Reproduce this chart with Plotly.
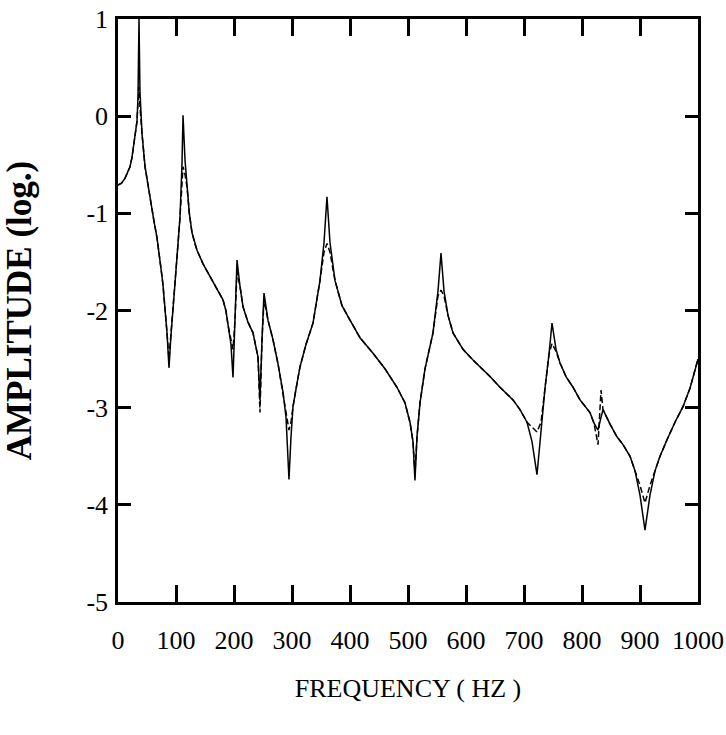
import plotly.graph_objects as go

# Frequency grid (Hz)
freq = [0, 6.0, 12.0, 17.0, 20.7, 24.0, 25.9, 29.0, 32.8, 34.5, 36.2, 37.9, 39.5, 41.4, 46.6,
        55.2, 62.0, 67.2, 72.0, 75.9, 77.6, 81.0,
        84.5, 87.9, 91.4, 98.3, 101.7, 106.9, 110.3, 112.1, 115.5, 119.0, 123.0, 127.6, 132.0,
        136.2, 146.6,
        158.6, 170.7, 181.0, 186.0, 189.7, 194.8, 198.3, 201.7, 205.2, 210.3, 215.5, 224.1, 232.8,
        241.4, 244.8, 248.3, 251.7, 258.6, 267.2, 275.9, 284.5, 289.7, 294.8, 298.3, 301.7,
        308.6, 313.8, 324.1, 336.2, 348.3, 355.2, 360.3, 365.5, 374.1, 386.2, 400.0, 417.2,
        439.7, 460.3, 481.0, 494.8, 503.4, 508.6, 512.0, 515.5, 520.7, 529.3, 543.1, 551.7,
        556.9, 562.1, 569.0, 577.6, 594.8, 612.1, 641.4, 658.6, 681.0, 693.1, 705.2, 713.8,
        722.4, 729.3, 736.2, 743.1, 748.3, 755.2, 762.1, 772.4, 784.5, 796.6, 813.8, 820.7,
        827.6, 832.8, 836.2, 848.3, 860.3, 870.7, 882.8, 891.4, 900.0, 908.6, 917.2, 925.9,
        934.5, 946.6, 960.3, 974.1, 986.2, 1000.0]

# Solid curve (log amplitude)
amp_solid = [-0.71, -0.69, -0.64, -0.58, -0.52, -0.43, -0.35, -0.22, -0.05, 0.2, 1.0, 0.25, -0.05,
             -0.18, -0.52,
             -0.86, -1.08, -1.25, -1.45, -1.65, -1.74, -1.95,
             -2.23, -2.59, -2.25, -1.72, -1.45, -1.04, -0.5, 0.01, -0.45, -0.73, -1.0, -1.2, -1.3,
             -1.38, -1.52,
             -1.65, -1.78, -1.89, -2.0, -2.15, -2.35, -2.69, -2.1, -1.48, -1.75, -1.96, -2.12, -2.23,
             -2.48, -2.92, -2.3, -1.82, -2.1, -2.30, -2.55, -2.84, -3.1, -3.74, -3.3, -2.99,
             -2.75, -2.58, -2.35, -2.13, -1.69, -1.3, -0.83, -1.3, -1.69, -1.95, -2.10, -2.28,
             -2.44, -2.60, -2.79, -2.95, -3.15, -3.35, -3.75, -3.3, -2.95, -2.6, -2.23, -1.8,
             -1.41, -1.8, -2.05, -2.23, -2.40, -2.51, -2.68, -2.79, -2.92, -3.02, -3.15, -3.35,
             -3.69, -3.2, -2.8, -2.45, -2.13, -2.4, -2.54, -2.68, -2.79, -2.92, -3.05, -3.16,
             -3.23, -3.1, -3.02, -3.17, -3.3, -3.38, -3.5, -3.65, -3.9, -4.26, -3.9, -3.65,
             -3.5, -3.33, -3.15, -2.99, -2.8, -2.5]

# Dashed curve (log amplitude)
amp_dashed = [-0.71, -0.69, -0.64, -0.58, -0.52, -0.43, -0.35, -0.22, -0.05, 0.15, 0.3, 0.1, -0.05,
              -0.18, -0.52,
              -0.86, -1.08, -1.25, -1.45, -1.65, -1.74, -1.95,
              -2.23, -2.5, -2.25, -1.72, -1.45, -1.04, -0.6, -0.52, -0.6, -0.73, -1.0, -1.2, -1.3,
              -1.38, -1.52,
              -1.65, -1.78, -1.89, -2.0, -2.15, -2.30, -2.4, -2.1, -1.6, -1.75, -1.96, -2.12, -2.23,
              -2.48, -3.05, -2.3, -1.9, -2.1, -2.30, -2.55, -2.84, -3.05, -3.23, -3.15, -2.99,
              -2.75, -2.58, -2.35, -2.13, -1.69, -1.4, -1.31, -1.4, -1.69, -1.95, -2.10, -2.28,
              -2.44, -2.60, -2.79, -2.95, -3.15, -3.35, -3.68, -3.3, -2.95, -2.6, -2.23, -1.85,
              -1.79, -1.85, -2.05, -2.23, -2.40, -2.51, -2.68, -2.79, -2.92, -3.02, -3.15, -3.2,
              -3.25, -3.15, -2.8, -2.45, -2.34, -2.42, -2.54, -2.68, -2.79, -2.92, -3.05, -3.16,
              -3.38, -2.82, -3.02, -3.17, -3.3, -3.38, -3.5, -3.65, -3.8, -3.98, -3.8, -3.65,
              -3.5, -3.33, -3.15, -2.99, -2.8, -2.5]

x_ticks = [0, 100, 200, 300, 400, 500, 600, 700, 800, 900, 1000]
y_ticks = [1, 0, -1, -2, -3, -4, -5]

font_family = "Liberation Serif, Times New Roman, serif"

fig = go.Figure()
fig.add_trace(go.Scatter(x=freq, y=amp_dashed, mode="lines",
                         line=dict(color="black", width=1.5, dash="6px,3px"),
                         showlegend=False))
fig.add_trace(go.Scatter(x=freq, y=amp_solid, mode="lines",
                         line=dict(color="black", width=1.5),
                         showlegend=False))

fig.update_layout(
    width=726, height=735,
    margin=dict(l=118, r=28, t=19, b=133, autoexpand=False),
    paper_bgcolor="white", plot_bgcolor="white",
    font=dict(family=font_family, color="black", size=26),
    xaxis=dict(
        range=[0, 1000], tickvals=x_ticks, ticktext=[str(v) for v in x_ticks],
        showgrid=False, zeroline=False,
        showline=True, linecolor="black", linewidth=2.5, mirror="allticks",
        ticks="inside", ticklen=17, tickwidth=2.5, tickcolor="black",
        tickfont=dict(size=26, family=font_family),
        ticklabelstandoff=13, ticklabeloverflow="allow",
        title=dict(text="FREQUENCY ( HZ )", font=dict(size=26, family=font_family), standoff=25),
    ),
    yaxis=dict(
        range=[-5, 1], tickvals=y_ticks, ticktext=[str(v) for v in y_ticks],
        showgrid=False, zeroline=False,
        showline=True, linecolor="black", linewidth=2.5, mirror="allticks",
        ticks="inside", ticklen=13, tickwidth=2.5, tickcolor="black",
        tickfont=dict(size=26, family=font_family),
        ticklabelstandoff=2, ticklabeloverflow="allow",
        title=dict(text="<b>AMPLITUDE (log.)</b>", font=dict(size=35, family=font_family), standoff=45),
    ),
)

# Remove the page's default body margin so the figure fills the window exactly.
fig.write_html("out.html",
               config={"displayModeBar": False},
               post_script="document.body.style.margin='0';document.body.style.overflow='hidden';")
